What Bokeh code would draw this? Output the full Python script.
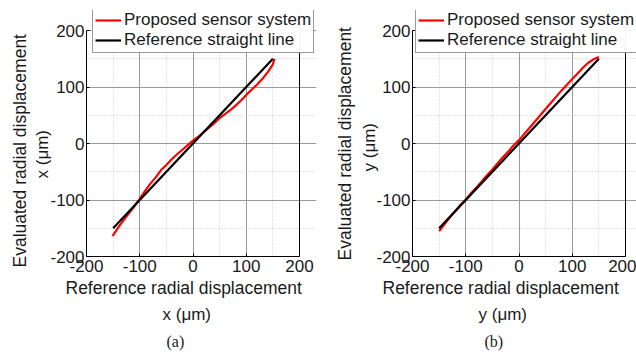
from bokeh.plotting import figure
from bokeh.layouts import row
from bokeh.models import (Range1d, FixedTicker, Legend, LegendItem, PrintfTickFormatter,
                          Title, Span)
from bokeh.embed import file_html
from bokeh.resources import INLINE

# ---- data ----
ref_x = [-150, 150]
ref_y = [-150, 150]

a_x = [-151, -140, -130, -120, -110, -100, -90, -80, -70, -60, -50, -40, -30, -20, -10, 0,
       10, 20, 30, 40, 50, 60, 70, 80, 90, 100, 110, 120, 130, 140, 150, 153]
a_y = [-164, -148, -135, -123, -111, -98, -84, -71, -60, -47, -38, -28, -19, -11, -3, 5,
       12, 20, 28, 36, 45, 52, 59, 67, 76, 86, 95, 104, 114, 126, 140, 150]

b_x = [-150, -140, -130, -120, -110, -100, -90, -80, -70, -60, -50, -40, -30, -20, -10, 0,
       10, 20, 30, 40, 50, 60, 70, 80, 90, 100, 110, 120, 130, 140, 150]
b_y = [-155, -143, -131, -120, -109, -99, -88, -78, -67, -56, -46, -35, -24, -14, -3, 6,
       17, 28, 39, 50, 61, 72, 83, 94, 104, 114, 124, 134, 143, 149, 153]

major_ticks = [-200, -100, 0, 100, 200]
minor_ticks = [-150, -50, 50, 150]
series_names = ["Proposed sensor system", "Reference straight line"]
x_title = "Reference radial displacement"
y_title = "Evaluated radial displacement"

FONT = "Liberation Sans"
TXT = "#1a1a1a"
LO, HI = -200, 200


def make_panel(px, py, var, letter, left, right_px, lay):
    # frame: data span LO..HI occupies 213 px wide / 226 px tall; the frame extends
    # a bit beyond HI (right) and above HI (top) so the legend can overhang
    ppx = 213.0 / (HI - LO)
    ppy = 226.0 / (HI - LO)
    frame_right = 318 - right_px
    x_end = HI + (frame_right - (left + 213)) / ppx
    y_end = HI + 20 / ppy
    p = figure(width=318, height=354, output_backend="svg", toolbar_location=None,
               x_range=Range1d(LO, x_end), y_range=Range1d(LO, y_end),
               min_border_left=left, min_border_right=right_px,
               min_border_top=10, min_border_bottom=98)
    p.outline_line_color = None
    for ax in (p.xaxis[0], p.yaxis[0]):
        ax.ticker = FixedTicker(ticks=major_ticks, minor_ticks=minor_ticks)
        ax.formatter = PrintfTickFormatter(format="%d")
        ax.bounds = (LO, HI)
        ax.major_label_text_font = FONT
        ax.major_label_text_font_size = "17px"
        ax.major_label_text_color = TXT
        ax.axis_line_color = "black"
        ax.major_tick_in = 3
        ax.major_tick_out = 0
        ax.minor_tick_in = 0
        ax.minor_tick_out = 0
    p.xaxis.major_label_standoff = 3
    p.yaxis.major_label_standoff = 2
    for g in (p.xgrid[0], p.ygrid[0]):
        g.bounds = (LO, HI)
        g.grid_line_color = "#9a9a9a"
        g.grid_line_width = 1
        g.minor_grid_line_color = "#c8c8c8"
        g.minor_grid_line_dash = "1 2"
        g.minor_grid_line_width = 1
    p.add_layout(Span(location=HI, dimension="height", line_color="black", line_width=1))

    r1 = p.line(px, py, line_color="#ff0000", line_width=2.2)
    r2 = p.line(ref_x, ref_y, line_color="black", line_width=2.2)

    leg = Legend(items=[LegendItem(label=series_names[0], renderers=[r1]),
                        LegendItem(label=series_names[1], renderers=[r2])],
                 location=(lay["lx"], 203))
    leg.label_text_font = FONT
    leg.label_text_font_size = "17px"
    leg.label_text_color = TXT
    leg.glyph_width = 26
    leg.glyph_height = 20
    leg.label_height = 20
    leg.label_standoff = 3
    leg.padding = 2
    leg.spacing = 0
    leg.margin = 0
    leg.border_line_color = "#333333"
    leg.border_line_width = 1
    p.add_layout(leg)

    def ttl(text, off, standoff, font=FONT, size="17px"):
        return Title(text=text, align="left", offset=off, standoff=standoff,
                     text_font=font, text_font_size=size, text_font_style="normal",
                     text_color=TXT)

    # below: axis title, unit, panel letter
    p.add_layout(ttl(x_title, lay["xt"], 2, size="17.5px"), "below")
    p.add_layout(ttl(var + " (\u03bcm)", lay["xu"], 8), "below")
    p.add_layout(ttl("(" + letter + ")", lay["lt"], 7, "Liberation Serif", "16px"), "below")
    # left: unit (closest to axis), then axis title
    p.add_layout(ttl(var + " (\u03bcm)", lay["yu"], lay["yus"]), "left")
    p.add_layout(ttl(y_title, lay["yt"], lay["yts"], size="17.5px"), "left")
    return p


pa = make_panel(a_x, a_y, "x", "a", 86, 2,
                dict(lx=6, xt=-21, xu=76, lt=80, yu=78, yus=-8, yt=-11, yts=10))
pb = make_panel(b_x, b_y, "y", "b", 94, 0,
                dict(lx=3, xt=-30, xu=66, lt=72, yu=85, yus=-11, yt=-4, yts=17))

layout = row(pa, pb, spacing=0)
open("out.html", "w").write(file_html(layout, INLINE))
